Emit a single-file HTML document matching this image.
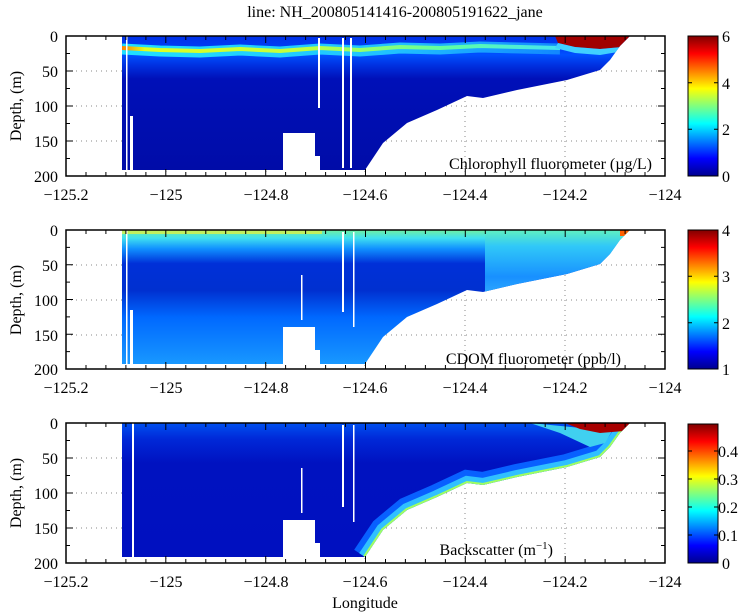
<!DOCTYPE html>
<html><head><meta charset="utf-8"><style>
body{margin:0;background:#fff;}
svg{display:block;font-family:"Liberation Serif",serif;}
</style></head><body>
<svg width="750" height="614" viewBox="0 0 750 614" xmlns="http://www.w3.org/2000/svg">
<defs>
<linearGradient id="jet" x1="0" y1="1" x2="0" y2="0">
<stop offset="0" stop-color="#00008f"/><stop offset="0.125" stop-color="#0000ff"/>
<stop offset="0.375" stop-color="#00ffff"/><stop offset="0.625" stop-color="#ffff00"/>
<stop offset="0.875" stop-color="#ff0000"/><stop offset="1" stop-color="#800000"/>
</linearGradient>
<clipPath id="prof"><polygon points="122,0 630,0 620,10 610,24 600,34 567,44 517,54 483,62 467,60 437,74 407,87 383,107 365,134 122,134"/></clipPath>
<linearGradient id="band1" gradientUnits="userSpaceOnUse" x1="122" y1="0" x2="580" y2="0">
<stop offset="0" stop-color="#ff8000"/><stop offset="0.05" stop-color="#e0ff20"/><stop offset="0.4" stop-color="#c0ff40"/><stop offset="0.7" stop-color="#60ffa0"/><stop offset="1" stop-color="#40e0ff"/>
</linearGradient>
<linearGradient id="band1c" gradientUnits="userSpaceOnUse" x1="122" y1="0" x2="580" y2="0">
<stop offset="0" stop-color="#20e0ff"/><stop offset="0.6" stop-color="#20c0ff"/><stop offset="1" stop-color="#1080ff"/>
</linearGradient>
<linearGradient id="v1" x1="0" y1="0" x2="0" y2="1">
<stop offset="0" stop-color="#0030e8"/><stop offset="0.06" stop-color="#0038f0"/><stop offset="0.14" stop-color="#0050ff"/><stop offset="0.22" stop-color="#0030e0"/><stop offset="0.32" stop-color="#0010b8"/><stop offset="1" stop-color="#000ca8"/>
</linearGradient>
<linearGradient id="v2" x1="0" y1="0" x2="0" y2="1">
<stop offset="0" stop-color="#70f0a0"/><stop offset="0.06" stop-color="#40e0f0"/><stop offset="0.14" stop-color="#1090ff"/><stop offset="0.25" stop-color="#0030d8"/><stop offset="0.45" stop-color="#0030d0"/><stop offset="0.65" stop-color="#0068ff"/><stop offset="1" stop-color="#1898ff"/>
</linearGradient>
<linearGradient id="v2r" x1="0" y1="0" x2="0" y2="1">
<stop offset="0" stop-color="#60f0c0"/><stop offset="0.12" stop-color="#30c8f8"/><stop offset="0.35" stop-color="#1890ff"/><stop offset="0.6" stop-color="#40c0ff"/>
</linearGradient>
<linearGradient id="v3" x1="0" y1="0" x2="0" y2="1">
<stop offset="0" stop-color="#0050f0"/><stop offset="0.12" stop-color="#0028d8"/><stop offset="0.3" stop-color="#0012c0"/><stop offset="1" stop-color="#0010c0"/>
</linearGradient>
</defs>

<text x="395" y="17" font-size="16" text-anchor="middle">line: NH_200805141416-200805191622_jane</text>

<g transform="translate(0,36)">
 <g stroke="#888" stroke-dasharray="1,4" stroke-width="1">
  <line x1="66" y1="35" x2="665" y2="35"/><line x1="66" y1="70" x2="665" y2="70"/><line x1="66" y1="105" x2="665" y2="105"/>
  <line x1="166" y1="0" x2="166" y2="140"/><line x1="266" y1="0" x2="266" y2="140"/><line x1="365" y1="0" x2="365" y2="140"/><line x1="465" y1="0" x2="465" y2="140"/><line x1="565" y1="0" x2="565" y2="140"/>
 </g>
 <g clip-path="url(#prof)">
  <rect x="122" y="0" width="510" height="134" fill="url(#v1)"/>
  <polyline points="122,13 160,15 200,16 240,14 280,16 320,13 360,15 400,12 440,13 480,11 520,12 560,13" fill="none" stroke="url(#band1c)" stroke-width="11"/>
  <polyline points="122,12 160,14 200,15 240,13 280,15 320,12 360,14 400,11 440,12 480,10 520,11 560,12" fill="none" stroke="url(#band1)" stroke-width="4"/>
  <polygon points="555,0 632,0 622,11 600,13 575,11 558,7" fill="#a00000"/>
  <polygon points="558,7 575,11 600,13 622,11 618,16 600,19 575,17 555,12" fill="#40d0ff"/>
 </g>
 <g fill="#fff">
  <rect x="283" y="97" width="32" height="44"/><rect x="315" y="120" width="5" height="21"/>
  <rect x="126" y="0" width="1.5" height="134"/><rect x="130" y="80" width="3" height="54"/>
  <rect x="342" y="2" width="2" height="130"/><rect x="350" y="2" width="2" height="130"/><rect x="318" y="2" width="2" height="70"/>
 </g>
 <text x="652" y="133" font-size="16" text-anchor="end">Chlorophyll fluorometer (µg/L)</text>
</g>

<g transform="translate(0,230)">
 <g stroke="#888" stroke-dasharray="1,4" stroke-width="1">
  <line x1="66" y1="35" x2="665" y2="35"/><line x1="66" y1="70" x2="665" y2="70"/><line x1="66" y1="105" x2="665" y2="105"/>
  <line x1="166" y1="0" x2="166" y2="140"/><line x1="266" y1="0" x2="266" y2="140"/><line x1="365" y1="0" x2="365" y2="140"/><line x1="465" y1="0" x2="465" y2="140"/><line x1="565" y1="0" x2="565" y2="140"/>
 </g>
 <g clip-path="url(#prof)">
  <rect x="122" y="0" width="510" height="134" fill="url(#v2)"/>
  <rect x="485" y="0" width="150" height="134" fill="url(#v2r)"/>
  <rect x="122" y="0" width="200" height="4" fill="#c0f060"/>
  <rect x="620" y="0" width="12" height="6" fill="#ff6000"/>
 </g>
 <g fill="#fff">
  <rect x="283" y="97" width="32" height="44"/><rect x="315" y="120" width="5" height="21"/>
  <rect x="126" y="0" width="1.5" height="134"/><rect x="130" y="80" width="3" height="54"/>
  <rect x="342" y="2" width="2" height="80"/><rect x="353" y="2" width="1.5" height="95"/><rect x="301" y="45" width="1.5" height="45"/>
 </g>
 <text x="621" y="134" font-size="16" text-anchor="end">CDOM fluorometer (ppb/l)</text>
</g>

<g transform="translate(0,423)">
 <g stroke="#888" stroke-dasharray="1,4" stroke-width="1">
  <line x1="66" y1="35" x2="665" y2="35"/><line x1="66" y1="70" x2="665" y2="70"/><line x1="66" y1="105" x2="665" y2="105"/>
  <line x1="166" y1="0" x2="166" y2="140"/><line x1="266" y1="0" x2="266" y2="140"/><line x1="365" y1="0" x2="365" y2="140"/><line x1="465" y1="0" x2="465" y2="140"/><line x1="565" y1="0" x2="565" y2="140"/>
 </g>
 <g clip-path="url(#prof)">
  <rect x="122" y="0" width="510" height="134" fill="url(#v3)"/>
  <polyline points="632,0 620,10 610,24 600,34 567,44 517,54 483,62 467,60 437,74 407,87 383,107 365,134" fill="none" stroke="#0860ff" stroke-width="26"/>
  <polyline points="632,0 620,10 610,24 600,34 567,44 517,54 483,62 467,60 437,74 407,87 383,107 365,134" fill="none" stroke="#30c0ff" stroke-width="14"/>
  <polyline points="632,0 620,10 610,24 600,34 567,44 517,54 483,62 467,60 437,74 407,87 383,107 365,134" fill="none" stroke="#a0ff60" stroke-width="4"/>
  <polygon points="530,0 560,10 590,24 605,20 612,8" fill="#40d0f0"/>
  <polygon points="565,0 632,0 624,8 600,10 580,6" fill="#a80000"/>
 </g>
 <g fill="#fff">
  <rect x="283" y="97" width="32" height="44"/><rect x="315" y="120" width="5" height="21"/>
  <rect x="132" y="0" width="2" height="134"/>
  <rect x="342" y="2" width="2" height="82"/><rect x="353" y="2" width="1.5" height="97"/><rect x="301" y="45" width="1.5" height="45"/>
 </g>
 <text x="553" y="132" font-size="16" text-anchor="end">Backscatter (m<tspan dy="-6" font-size="11">−1</tspan><tspan dy="6">)</tspan></text>
</g>

<g fill="none" stroke="#000" stroke-width="1.5">
 <rect x="66" y="36" width="599" height="140"/>
 <rect x="66" y="230" width="599" height="139"/>
 <rect x="66" y="423" width="599" height="140"/>
</g>
<g stroke="#000" stroke-width="1">
 <path id="tk" d=""/>
</g>
<g font-size="16" text-anchor="end">
 <text x="58" y="42">0</text><text x="58" y="77">50</text><text x="58" y="112">100</text><text x="58" y="147">150</text><text x="58" y="182">200</text>
 <text x="58" y="236">0</text><text x="58" y="271">50</text><text x="58" y="306">100</text><text x="58" y="341">150</text><text x="58" y="375">200</text>
 <text x="58" y="429">0</text><text x="58" y="464">50</text><text x="58" y="499">100</text><text x="58" y="534">150</text><text x="58" y="569">200</text>
</g>
<g font-size="16" text-anchor="middle">
 <text x="66" y="200">−125.2</text><text x="166" y="200">−125</text><text x="266" y="200">−124.8</text><text x="365" y="200">−124.6</text><text x="465" y="200">−124.4</text><text x="565" y="200">−124.2</text><text x="665" y="200">−124</text>
 <text x="66" y="393">−125.2</text><text x="166" y="393">−125</text><text x="266" y="393">−124.8</text><text x="365" y="393">−124.6</text><text x="465" y="393">−124.4</text><text x="565" y="393">−124.2</text><text x="665" y="393">−124</text>
 <text x="66" y="587">−125.2</text><text x="166" y="587">−125</text><text x="266" y="587">−124.8</text><text x="365" y="587">−124.6</text><text x="465" y="587">−124.4</text><text x="565" y="587">−124.2</text><text x="665" y="587">−124</text>
 <text x="365" y="608">Longitude</text>
 <text transform="translate(21,106) rotate(-90)">Depth, (m)</text>
 <text transform="translate(21,300) rotate(-90)">Depth, (m)</text>
 <text transform="translate(21,493) rotate(-90)">Depth, (m)</text>
</g>

<rect x="688" y="36" width="30" height="140" fill="url(#jet)" stroke="#000" stroke-width="1"/>
<rect x="688" y="230" width="30" height="139" fill="url(#jet)" stroke="#000" stroke-width="1"/>
<rect x="688" y="424" width="30" height="139" fill="url(#jet)" stroke="#000" stroke-width="1"/>
<g font-size="16">
 <text x="722" y="42">6</text><text x="722" y="89">4</text><text x="722" y="135">2</text><text x="722" y="182">0</text>
 <text x="722" y="236">4</text><text x="722" y="282">3</text><text x="722" y="329">2</text><text x="722" y="375">1</text>
 <text x="718" y="457">0.4</text><text x="718" y="485">0.3</text><text x="718" y="513">0.2</text><text x="718" y="541">0.1</text><text x="722" y="569">0</text>
</g>
<g stroke="#000" stroke-width="1">
 <path d="M688 82.7h4M718 82.7h-4M688 129.3h4M718 129.3h-4M688 276.3h4M718 276.3h-4M688 322.7h4M718 322.7h-4M688 451h4M718 451h-4M688 479h4M718 479h-4M688 507h4M718 507h-4M688 535h4M718 535h-4"/>
</g>
<script>
(function(){
 var d="";
 [[36,176],[230,369],[423,563]].forEach(function(p){
  var t=p[0],b=p[1],h=b-t;
  for(var i=0;i<=30;i++){var x=66+i*599/30;var L=(i%5==0)?7:4;
   d+="M"+x.toFixed(1)+" "+t+"v"+L+"M"+x.toFixed(1)+" "+b+"v-"+L;}
  for(var j=0;j<=8;j++){var y=t+j*h/8;var L=(j%2==0)?7:4;
   d+="M66 "+y.toFixed(1)+"h"+L+"M665 "+y.toFixed(1)+"h-"+L;}
 });
 document.getElementById("tk").setAttribute("d",d);
})();
</script>
</svg>
</body></html>
